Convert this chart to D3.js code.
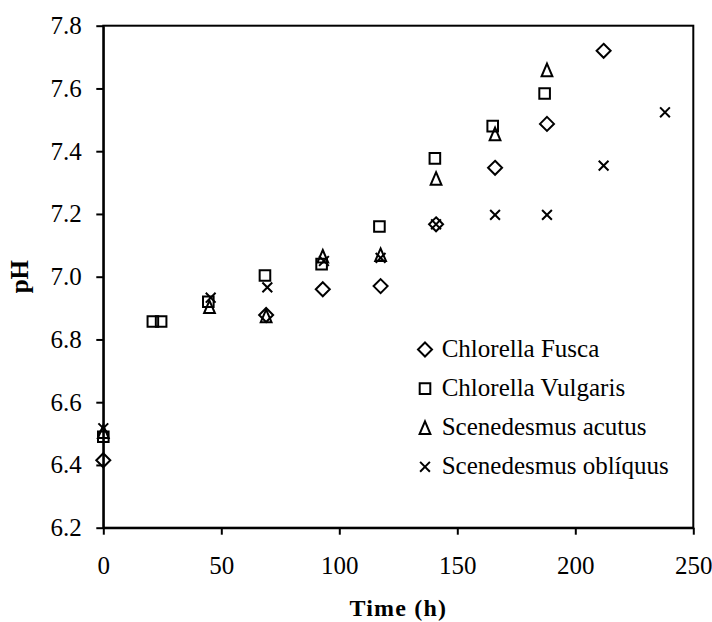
<!DOCTYPE html>
<html><head><meta charset="utf-8">
<script src="https://cdn.jsdelivr.net/npm/d3@7"></script>
<style>
body{margin:0;background:#fff;}
svg{display:block;}
text{font-family:"Liberation Serif","Times New Roman",serif;fill:#000;}
</style></head>
<body><svg id="c" width="712" height="622"></svg>
<script>
const xTicks = [0, 50, 100, 150, 200, 250];
const yTicks = [6.2, 6.4, 6.6, 6.8, 7.0, 7.2, 7.4, 7.6, 7.8];
const seriesNames = ["Chlorella Fusca", "Chlorella Vulgaris", "Scenedesmus acutus", "Scenedesmus oblíquus"];
const fuscaT = [0, 69, 93, 117.5, 141, 166, 188, 212];
const fuscaPH = [6.415, 6.878, 6.96, 6.97, 7.167, 7.347, 7.487, 7.72];
const vulgarisT = [0, 21, 24.5, 44.5, 68.5, 92.5, 117, 140.5, 165, 187];
const vulgarisPH = [6.49, 6.857, 6.857, 6.92, 7.004, 7.04, 7.16, 7.377, 7.48, 7.584];
const acutusT = [0, 45, 69, 93, 117.5, 141, 166, 188];
const acutusPH = [6.506, 6.904, 6.875, 7.065, 7.07, 7.313, 7.455, 7.659];
const obliquusT = [0, 45.5, 69.5, 93.5, 117.5, 141, 166, 188, 212, 238];
const obliquusPH = [6.517, 6.933, 6.966, 7.05, 7.06, 7.167, 7.197, 7.197, 7.354, 7.524];

const svg = d3.select("#c");
const L = 103.3, R = 693.3, T = 25.7, B = 527.7;
const x = d3.scaleLinear().domain([0, 250]).range([L, R]);
const y = d3.scaleLinear().domain([6.2, 7.8]).range([B, T]);

const shapes = {
  diamond: "M0,-7L7,0L0,7L-7,0Z",
  square: "M-5.3,-5.3H5.3V5.3H-5.3Z",
  triangle: "M0,-6.3L5.4,6.3L-5.4,6.3Z",
  cross: "M-4.9,-4.9L4.9,4.9M4.9,-4.9L-4.9,4.9"
};
const series = [
  {name: seriesNames[0], t: fuscaT, v: fuscaPH, shape: "diamond"},
  {name: seriesNames[1], t: vulgarisT, v: vulgarisPH, shape: "square"},
  {name: seriesNames[2], t: acutusT, v: acutusPH, shape: "triangle"},
  {name: seriesNames[3], t: obliquusT, v: obliquusPH, shape: "cross"}
];

// frame
svg.append("rect").attr("x", L).attr("y", T).attr("width", R - L).attr("height", B - T)
  .attr("fill", "none").attr("stroke", "#000").attr("stroke-width", 2);

const xAxis = svg.append("g").attr("transform", `translate(0,${B})`)
  .call(d3.axisBottom(x).tickValues(xTicks).tickSize(7).tickSizeOuter(0).tickPadding(21.5).tickFormat(d3.format("d")));
const yAxis = svg.append("g").attr("transform", `translate(${L},0)`)
  .call(d3.axisLeft(y).tickValues(yTicks).tickSize(7).tickSizeOuter(0).tickPadding(14.6).tickFormat(d3.format(".1f")));
[xAxis, yAxis].forEach(g => {
  g.select(".domain").attr("stroke", "#000").attr("stroke-width", 2);
  g.selectAll(".tick line").attr("stroke", "#000").attr("stroke-width", 2);
  g.selectAll(".tick text").attr("font-size", 25).attr("font-family", "Liberation Serif, serif").attr("fill", "#000");
});

// markers
series.forEach(s => {
  svg.append("g").selectAll("path").data(s.t.map((t, i) => [t, s.v[i]])).join("path")
    .attr("d", shapes[s.shape])
    .attr("transform", d => `translate(${x(d[0])},${y(d[1])})`)
    .attr("fill", "none").attr("stroke", "#000").attr("stroke-width", 2);
});

// legend
const lg = svg.append("g");
series.forEach((s, i) => {
  const cy = 348.5 + i * 39.1;
  lg.append("path").attr("d", shapes[s.shape]).attr("transform", `translate(425,${cy + 1})`)
    .attr("fill", "none").attr("stroke", "#000").attr("stroke-width", 2);
  lg.append("text").attr("x", 441.7).attr("y", cy + 8.3).attr("font-size", 25).text(s.name);
});

// axis titles
svg.append("text").attr("x", (L + R) / 2).attr("y", 616).attr("text-anchor", "middle")
  .attr("font-size", 24).attr("font-weight", "bold").attr("letter-spacing", 1.2).text("Time (h)");
svg.append("text").attr("transform", `translate(28,${(T + B) / 2}) rotate(-90)`).attr("text-anchor", "middle")
  .attr("font-size", 25).attr("font-weight", "bold").text("pH");
</script></body></html>
